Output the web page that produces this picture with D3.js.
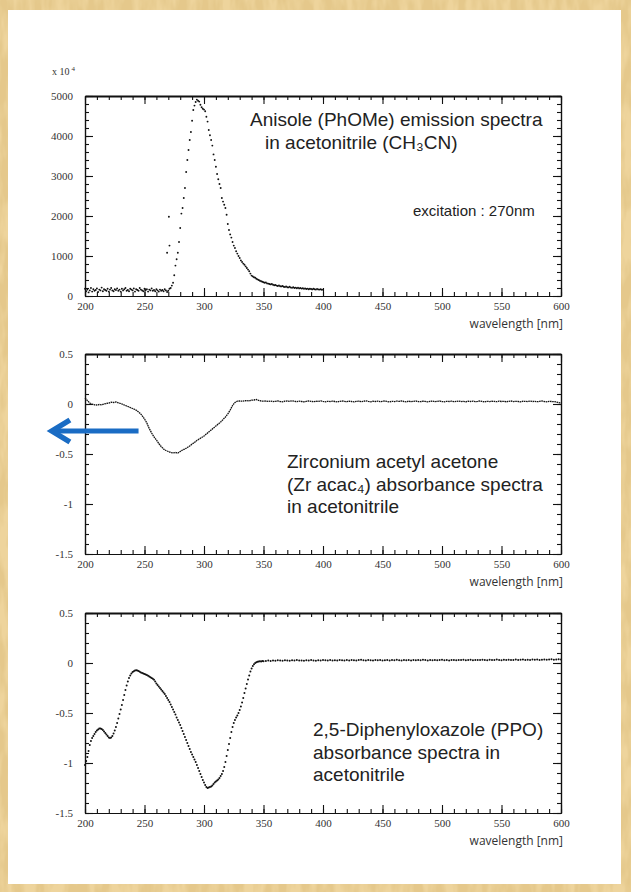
<!DOCTYPE html>
<html>
<head>
<meta charset="utf-8">
<script src="https://cdn.jsdelivr.net/npm/d3@7"></script>
<style>
  html, body { margin: 0; padding: 0; background: #fff; }
  svg { display: block; }
</style>
</head>
<body>
<svg id="chart" width="631" height="892"></svg>
<script>
// ---------------------------------------------------------------
// Spectra (wavelength in nm)
// ---------------------------------------------------------------

// Anisole emission, 200-400 nm, 1 nm step (counts)
const emStart = 200, emStep = 1;
const emission = [
  180, 120, 160, 90, 140, 200, 110, 170, 130, 150,
  190, 100, 160, 140, 210, 120, 170, 150, 130, 180,
  110, 160, 200, 140, 120, 170, 150, 190, 130, 160,
  110, 180, 140, 170, 200, 130, 150, 120, 180, 160,
  140, 190, 110, 170, 150, 130, 200, 160, 140, 120,
  180, 150, 170, 110, 160, 140, 190, 130, 150, 120,
  170, 140, 110, 160, 130, 150, 120, 170, 140, 100,
  130, 180, 200, 260, 330, 520, 760, 920, 1080, 1350,
  1700, 2060, 2200, 2450, 2700, 3100, 3400, 3650, 3900, 4100,
  4380, 4650, 4760, 4850, 4910, 4880, 4860, 4780, 4720, 4680,
  4660, 4620, 4480, 4360, 4150, 4020, 3900, 3760, 3540, 3400,
  3230, 3050, 2920, 2800, 2700, 2450, 2360, 2280, 2200, 2030,
  1800, 1650, 1540, 1460, 1350, 1260, 1200, 1120, 1060, 1000,
  950, 890, 850, 810, 780, 740, 700, 660, 620, 560,
  510, 490, 470, 455, 430, 415, 400, 380, 370, 355,
  345, 330, 340, 315, 310, 300, 290, 300, 280, 270,
  275, 260, 250, 265, 245, 240, 250, 230, 225, 240,
  220, 215, 230, 210, 205, 220, 200, 210, 195, 205,
  190, 200, 185, 195, 180, 190, 175, 185, 170, 180,
  175, 165, 180, 170, 160, 175, 165, 160, 170, 155,
  160
];
// Stray excitation light recorded near 270 nm
const scatterWl  = [269, 270.5, 271];
const scatterVal = [1080, 1980, 1260];

// Zr(acac)4 absorbance, 200-600 nm, 2 nm step
const zrStart = 200, zrStep = 2;
const zrAbs = [
  0.06, 0.035, 0.01, 0.0, -0.008, -0.01, -0.005, -0.008, 0.0, 0.005,
  0.01, 0.018, 0.015, 0.02, 0.012, 0.005, -0.005, -0.015, -0.025, -0.035,
  -0.045, -0.055, -0.07, -0.09, -0.115, -0.15, -0.19, -0.245, -0.29, -0.33,
  -0.36, -0.395, -0.425, -0.45, -0.465, -0.475, -0.485, -0.49, -0.485, -0.49,
  -0.475, -0.46, -0.45, -0.435, -0.42, -0.4, -0.385, -0.365, -0.35, -0.335,
  -0.32, -0.3, -0.28, -0.26, -0.24, -0.22, -0.2, -0.18, -0.155, -0.13,
  -0.1, -0.06, -0.015, 0.015, 0.028, 0.03, 0.028, 0.032, 0.035, 0.03,
  0.038, 0.04, 0.045, 0.035, 0.03, 0.028,
  0.03, 0.026, 0.029, 0.024, 0.027, 0.031, 0.025, 0.022, 0.028, 0.03,
  0.026, 0.033, 0.027, 0.024, 0.029, 0.025, 0.021, 0.027, 0.03, 0.026,
  0.023, 0.028, 0.025, 0.031, 0.026, 0.022, 0.027, 0.024, 0.029, 0.025,
  0.02, 0.026, 0.03, 0.027, 0.023, 0.028, 0.025, 0.021, 0.026, 0.029,
  0.024, 0.027, 0.032, 0.026, 0.022, 0.028, 0.025, 0.029, 0.023, 0.027,
  0.03, 0.025, 0.021, 0.027, 0.024, 0.029, 0.026, 0.031, 0.025, 0.022,
  0.028, 0.024, 0.027, 0.03, 0.025, 0.023, 0.028, 0.026, 0.021, 0.027,
  0.029, 0.024, 0.026, 0.03, 0.025, 0.022, 0.027, 0.025, 0.029, 0.023,
  0.026, 0.03, 0.024, 0.027, 0.022, 0.028, 0.025, 0.029, 0.024, 0.026,
  0.031, 0.025, 0.022, 0.027, 0.024, 0.028, 0.026, 0.023, 0.029, 0.025,
  0.027, 0.022, 0.026, 0.03, 0.024, 0.027, 0.025, 0.021, 0.028, 0.026,
  0.024, 0.029, 0.025, 0.027, 0.023, 0.026, 0.03, 0.025, 0.022, 0.027,
  0.025, 0.024, 0.02, 0.014, 0.01
];

// PPO absorbance, 200-350 nm at 1 nm, then 352-600 nm at 2 nm
const ppoStart = 200, ppoStep = 1;
const ppoAbs = [
  -1.02, -0.98, -0.94, -0.88, -0.82, -0.78, -0.75, -0.73, -0.71, -0.69,
  -0.675, -0.665, -0.655, -0.655, -0.66, -0.67, -0.685, -0.7, -0.715, -0.73,
  -0.745, -0.75, -0.745, -0.73, -0.705, -0.675, -0.64, -0.6, -0.555, -0.51,
  -0.465, -0.42, -0.37, -0.32, -0.27, -0.225, -0.185, -0.15, -0.125, -0.105,
  -0.09, -0.082, -0.076, -0.072, -0.075, -0.08, -0.088, -0.095, -0.1, -0.105,
  -0.11, -0.115, -0.12, -0.128, -0.135, -0.142, -0.15, -0.158, -0.168, -0.185,
  -0.205, -0.22, -0.235, -0.25, -0.265, -0.28, -0.295, -0.31, -0.33, -0.35,
  -0.37, -0.39, -0.415, -0.44, -0.465, -0.49, -0.515, -0.545, -0.57, -0.595,
  -0.62, -0.65, -0.68, -0.71, -0.74, -0.77, -0.8, -0.83, -0.86, -0.89,
  -0.915, -0.94, -0.965, -0.99, -1.02, -1.05, -1.08, -1.11, -1.14, -1.17,
  -1.195, -1.22, -1.24, -1.25, -1.245, -1.24, -1.235, -1.225, -1.21, -1.195,
  -1.185, -1.175, -1.165, -1.15, -1.13, -1.11, -1.08, -1.04, -0.99, -0.93,
  -0.87, -0.81, -0.75, -0.69, -0.64, -0.6, -0.57, -0.545, -0.525, -0.5,
  -0.47, -0.435, -0.395, -0.35, -0.3, -0.255, -0.21, -0.165, -0.125, -0.085,
  -0.055, -0.03, -0.012, 0.0, 0.008, 0.012, 0.015, 0.018, 0.016, 0.02,
  0.018
];
const ppoFlatStart = 352, ppoFlatStep = 2;
const ppoFlat = [
  0.02, 0.024, 0.021, 0.026, 0.023, 0.027, 0.024, 0.022, 0.028, 0.025,
  0.023, 0.027, 0.025, 0.029, 0.024, 0.026, 0.022, 0.028, 0.025, 0.03,
  0.026, 0.023, 0.028, 0.025, 0.029, 0.027, 0.024, 0.03, 0.026, 0.028,
  0.025, 0.031, 0.027, 0.024, 0.029, 0.026, 0.03, 0.027, 0.025, 0.029,
  0.032, 0.027, 0.025, 0.03, 0.028, 0.026, 0.031, 0.027, 0.029, 0.025,
  0.028, 0.031, 0.026, 0.029, 0.027, 0.032, 0.028, 0.025, 0.03, 0.027,
  0.029, 0.026, 0.031, 0.028, 0.03, 0.027, 0.033, 0.029, 0.026, 0.03,
  0.028, 0.031, 0.027, 0.029, 0.032, 0.028, 0.03, 0.026, 0.031, 0.029,
  0.027, 0.031, 0.029, 0.033, 0.028, 0.03, 0.032, 0.027, 0.03, 0.031,
  0.029, 0.033, 0.03, 0.028, 0.032, 0.029, 0.031, 0.034, 0.03, 0.028,
  0.032, 0.03, 0.033, 0.029, 0.031, 0.034, 0.03, 0.032, 0.035, 0.031,
  0.033, 0.03, 0.034, 0.032, 0.035, 0.031, 0.033, 0.036, 0.032, 0.034,
  0.037, 0.033, 0.035, 0.038, 0.036
];

// Axis ticks
const xTicks = [200, 250, 300, 350, 400, 450, 500, 550, 600];
const emTicks = [0, 1000, 2000, 3000, 4000, 5000];
const absTicks = [-1.5, -1, -0.5, 0, 0.5];

// ---------------------------------------------------------------
const W = 631, H = 892;
const svg = d3.select("#chart");

// parchment frame
const defs = svg.append("defs");
const paper = defs.append("filter").attr("id", "paper")
  .attr("x", 0).attr("y", 0).attr("width", "100%").attr("height", "100%");
paper.append("feTurbulence").attr("type", "fractalNoise")
  .attr("baseFrequency", "0.09 0.025").attr("numOctaves", 3).attr("seed", 7);
paper.append("feColorMatrix").attr("type", "matrix")
  .attr("values", "0 0 0 0 0.78  0 0 0 0 0.58  0 0 0 0 0.26  3.4 0 0 0 -1.15");

svg.append("rect").attr("width", W).attr("height", H).attr("fill", "#eed49c");
svg.append("rect").attr("width", W).attr("height", H).attr("filter", "url(#paper)");
svg.append("rect").attr("x", 8).attr("y", 10).attr("width", 613).attr("height", 874)
  .attr("fill", "#ffffff");

const x = d3.scaleLinear().domain([200, 600]).range([85, 561]);
const PH = 200;
const xMinor = d3.range(200, 601, 10);

const labelFont = "'Liberation Serif', 'DejaVu Serif', serif";
const axisTitleFont = "'Open Sans', 'Noto Sans', sans-serif";
const textFont = "'Liberation Sans', 'DejaVu Sans', sans-serif";

function panel(top, domain, majors, minorStep, fmt) {
  const y = d3.scaleLinear().domain(domain).range([top + PH, top]);
  const g = svg.append("g");
  const bottom = top + PH;
  const yMinor = d3.range(domain[0], domain[1] + minorStep / 2, minorStep);

  const styleAxis = sel => {
    sel.selectAll("path.domain").attr("stroke", "#111").attr("stroke-width", 1.2);
    sel.selectAll(".tick line").attr("stroke", "#111").attr("stroke-width", 1.1);
    sel.selectAll(".tick text").attr("font-family", labelFont).attr("font-size", 11)
      .attr("fill", "#333");
  };

  // minor ticks
  g.append("g").attr("transform", `translate(0,${bottom})`)
    .call(d3.axisBottom(x).tickValues(xMinor).tickSize(-4).tickSizeOuter(0).tickFormat(""))
    .call(styleAxis);
  g.append("g").attr("transform", `translate(0,${top})`)
    .call(d3.axisTop(x).tickValues(xMinor).tickSize(-4).tickSizeOuter(0).tickFormat(""))
    .call(styleAxis);
  g.append("g").attr("transform", `translate(${x(200)},0)`)
    .call(d3.axisLeft(y).tickValues(yMinor).tickSize(-4).tickSizeOuter(0).tickFormat(""))
    .call(styleAxis);
  g.append("g").attr("transform", `translate(${x(600)},0)`)
    .call(d3.axisRight(y).tickValues(yMinor).tickSize(-4).tickSizeOuter(0).tickFormat(""))
    .call(styleAxis);

  // major ticks with labels
  g.append("g").attr("transform", `translate(0,${bottom})`)
    .call(d3.axisBottom(x).tickValues(xTicks).tickSize(-8).tickSizeOuter(0).tickPadding(6)
      .tickFormat(d3.format("d")))
    .call(styleAxis);
  const topAxis = g.append("g").attr("transform", `translate(0,${top})`)
    .call(d3.axisTop(x).tickValues(xTicks).tickSize(-8).tickSizeOuter(0).tickFormat(""))
    .call(styleAxis);
  topAxis.select("path.domain").attr("stroke-width", 1.8);
  g.append("g").attr("transform", `translate(${x(200)},0)`)
    .call(d3.axisLeft(y).tickValues(majors).tickSize(-8).tickSizeOuter(0).tickPadding(12)
      .tickFormat(fmt))
    .call(styleAxis);
  g.append("g").attr("transform", `translate(${x(600)},0)`)
    .call(d3.axisRight(y).tickValues(majors).tickSize(-8).tickSizeOuter(0).tickFormat(""))
    .call(styleAxis);

  g.append("text").attr("x", x(600) + 2).attr("y", bottom + 32)
    .attr("text-anchor", "end").attr("font-family", axisTitleFont).attr("font-size", 12)
    .attr("fill", "#333").text("wavelength [nm]");

  return { g, y, top };
}

// multi-line label, one <text> per line; each line is [xOffset, string]
function annotate(g, x0, y0, lines, size) {
  lines.forEach(([dx, str], i) => {
    g.append("text").attr("x", x0 + dx).attr("y", y0 + i * 22.5)
      .attr("font-family", textFont).attr("font-size", size).attr("fill", "#222")
      .text(str);
  });
}

const plain = v => String(+v.toFixed(1));

// ---- Panel 1: emission ----
const p1 = panel(96, [0, 5000], emTicks, 200, d3.format("d"));
const emPts = emission.map((v, i) => ({ wl: emStart + i * emStep, v }))
  .concat(scatterWl.map((wl, i) => ({ wl, v: scatterVal[i] })));
p1.g.append("g").selectAll("circle").data(emPts).join("circle")
  .attr("cx", d => x(d.wl)).attr("cy", d => p1.y(d.v)).attr("r", 0.95).attr("fill", "#111");

const scaleLbl = p1.g.append("text").attr("x", 52).attr("y", 75)
  .attr("font-family", labelFont).attr("font-size", 10).attr("fill", "#333");
scaleLbl.append("tspan").text("x 10");
scaleLbl.append("tspan").attr("dx", 2).attr("dy", -4).attr("font-size", 7).text("4");

annotate(p1.g, 250, 126, [
  [0, "Anisole (PhOMe) emission spectra"],
  [15, "in acetonitrile (CH\u2083CN)"]
], 19);
p1.g.append("text").attr("x", 413).attr("y", 216).attr("font-family", textFont)
  .attr("font-size", 15).attr("fill", "#222")
  .text("excitation : 270nm");

// ---- Panel 2: Zr(acac)4 ----
const p2 = panel(354, [-1.5, 0.5], absTicks, 0.1, plain);
const zrPts = zrAbs.map((v, i) => ({ wl: zrStart + i * zrStep, v }));
p2.g.append("path").datum(zrPts)
  .attr("d", d3.line().x(d => x(d.wl)).y(d => p2.y(d.v)))
  .attr("fill", "none").attr("stroke", "#111").attr("stroke-width", 1.3)
  .attr("stroke-dasharray", "1.6 0.6");

annotate(p2.g, 287, 468, [
  [0, "Zirconium acetyl acetone"],
  [0, "(Zr acac\u2084) absorbance spectra"],
  [0, "in acetonitrile"]
], 19);

// arrow pointing off the left edge of the panel
const arrowFrom = { wl: 245, v: -0.27 }, arrowTo = { wl: 170.5, v: -0.27 };
const ax0 = x(arrowFrom.wl), ax1 = x(arrowTo.wl), ay = p2.y(arrowFrom.v);
p2.g.append("line").attr("x1", ax0).attr("x2", ax1 + 4).attr("y1", ay).attr("y2", ay)
  .attr("stroke", "#1a6cc4").attr("stroke-width", 5);
p2.g.append("path")
  .attr("d", `M${ax1 + 20},${ay - 11} L${ax1 + 2},${ay} L${ax1 + 20},${ay + 11}`)
  .attr("fill", "none").attr("stroke", "#1a6cc4").attr("stroke-width", 5.5)
  .attr("stroke-linejoin", "miter");

// ---- Panel 3: PPO ----
const p3 = panel(613, [-1.5, 0.5], absTicks, 0.1, plain);
const ppoPts = ppoAbs.map((v, i) => ({ wl: ppoStart + i * ppoStep, v }))
  .concat(ppoFlat.map((v, i) => ({ wl: ppoFlatStart + i * ppoFlatStep, v })));
p3.g.append("g").selectAll("circle").data(ppoPts).join("circle")
  .attr("cx", d => x(d.wl)).attr("cy", d => p3.y(d.v)).attr("r", 1).attr("fill", "#111");

annotate(p3.g, 313, 736, [
  [0, "2,5-Diphenyloxazole (PPO)"],
  [0, "absorbance spectra in"],
  [0, "acetonitrile"]
], 19);
</script>
</body>
</html>
